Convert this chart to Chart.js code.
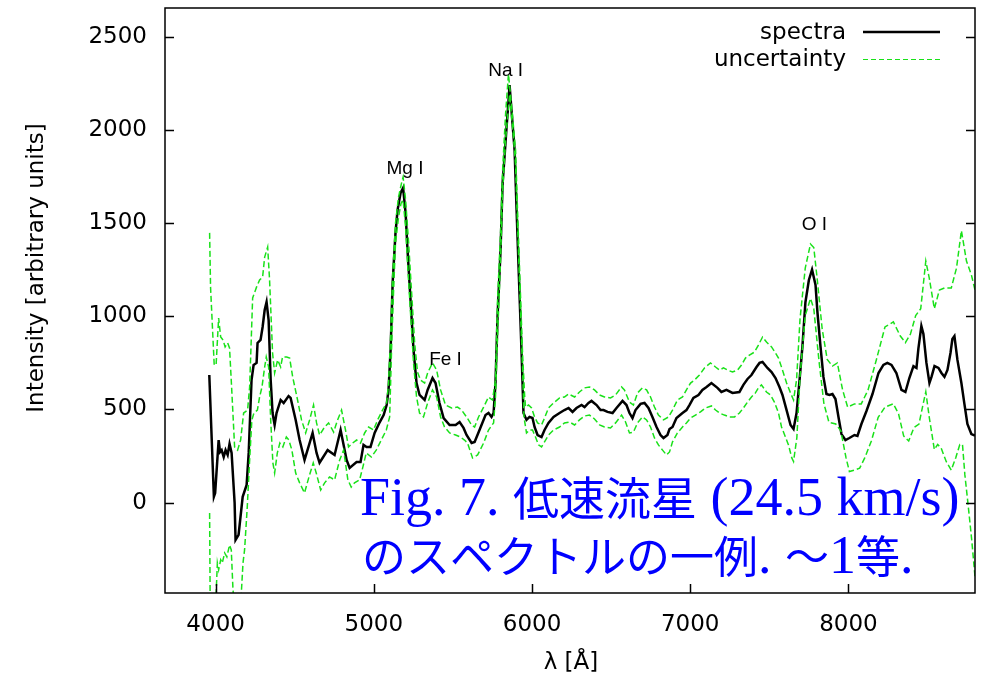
<!DOCTYPE html>
<html lang="ja">
<head>
<meta charset="UTF-8">
<title>低速流星のスペクトル</title>
<script src="https://cdn.jsdelivr.net/npm/chart.js"></script>
<style>
  html, body { margin: 0; padding: 0; background: #fff; }
  #wrap { width: 982px; height: 683px; }
</style>
</head>
<body>
<div id="wrap"><canvas id="spec" width="982" height="683"></canvas></div>
<script>
// [wavelength (Å), intensity]
const spectra = [[3960,685],[3989,32],[3997,52],[4019,336],[4028,272],[4038,282],[4051,245],[4063,282],[4076,256],[4088,315],[4101,267],[4120,0],[4126,-200],[4145,-173],[4171,31],[4196,95],[4209,267],[4227,658],[4240,739],[4259,750],[4265,857],[4284,873],[4297,943],[4310,1034],[4322,1077],[4335,980],[4348,658],[4360,481],[4373,417],[4385,481],[4411,551],[4430,535],[4461,572],[4474,562],[4506,444],[4531,336],[4562,229],[4594,320],[4613,374],[4638,267],[4657,214],[4708,282],[4752,256],[4790,390],[4828,229],[4847,186],[4891,218],[4916,218],[4935,310],[4954,299],[4979,299],[5005,374],[5036,430],[5062,470],[5081,524],[5093,605],[5106,819],[5119,1180],[5137,1448],[5150,1570],[5169,1662],[5185,1689],[5201,1554],[5213,1356],[5232,1088],[5251,819],[5270,642],[5289,578],[5321,551],[5340,605],[5371,669],[5390,642],[5415,535],[5441,454],[5479,417],[5517,417],[5542,433],[5567,401],[5586,363],[5618,320],[5637,326],[5668,390],[5706,470],[5725,481],[5744,460],[5757,481],[5769,642],[5782,996],[5801,1356],[5814,1715],[5826,1854],[5839,2015],[5849,2128],[5858,2241],[5877,2031],[5890,1891],[5902,1580],[5921,1116],[5934,803],[5946,481],[5965,444],[5984,460],[6003,454],[6016,406],[6035,363],[6060,352],[6079,390],[6104,428],[6136,460],[6174,481],[6205,497],[6231,508],[6256,487],[6281,508],[6313,524],[6332,513],[6357,535],[6376,546],[6408,524],[6433,497],[6452,497],[6477,487],[6509,481],[6534,508],[6572,546],[6597,524],[6616,481],[6635,454],[6654,497],[6686,530],[6711,535],[6736,508],[6761,460],[6787,406],[6812,363],[6831,347],[6856,363],[6869,395],[6888,406],[6913,454],[6951,481],[6976,497],[6995,524],[7020,562],[7052,578],[7077,605],[7103,621],[7134,642],[7172,616],[7197,594],[7229,605],[7267,589],[7311,594],[7336,632],[7362,664],[7387,685],[7419,728],[7438,750],[7457,755],[7488,723],[7514,701],[7539,669],[7564,621],[7583,578],[7609,497],[7634,417],[7653,395],[7672,481],[7691,658],[7709,836],[7728,1075],[7750,1195],[7770,1251],[7792,1168],[7804,1023],[7823,841],[7842,675],[7861,583],[7880,578],[7899,583],[7918,556],[7937,460],[7956,368],[7981,336],[8006,347],[8038,363],[8057,358],[8082,422],[8114,492],[8152,583],[8190,696],[8221,739],[8246,750],[8272,739],[8303,696],[8335,605],[8360,594],[8385,669],[8411,733],[8430,723],[8442,825],[8461,948],[8474,905],[8493,750],[8512,642],[8525,675],[8544,733],[8569,723],[8588,696],[8607,675],[8626,712],[8645,803],[8657,878],[8670,894],[8689,766],[8714,642],[8733,530],[8752,422],[8777,368],[8800,360]];

const upper = [[3962,1448],[3968,1156],[3991,739],[4003,739],[4019,991],[4032,889],[4047,873],[4060,836],[4076,857],[4088,830],[4101,621],[4120,299],[4139,282],[4158,336],[4177,481],[4202,497],[4215,621],[4234,1099],[4259,1158],[4278,1195],[4297,1211],[4310,1318],[4329,1372],[4341,1195],[4360,803],[4373,696],[4392,766],[4411,728],[4423,782],[4449,782],[4468,776],[4487,675],[4518,551],[4543,444],[4569,374],[4594,444],[4619,524],[4638,428],[4657,363],[4689,406],[4714,428],[4746,379],[4771,444],[4796,497],[4821,390],[4840,299],[4866,320],[4891,336],[4916,320],[4942,374],[4967,406],[4998,390],[5024,444],[5055,497],[5081,535],[5093,642],[5106,889],[5119,1211],[5137,1500],[5156,1640],[5175,1715],[5185,1747],[5201,1624],[5220,1393],[5239,1125],[5258,857],[5276,701],[5295,658],[5321,642],[5340,696],[5371,750],[5397,712],[5422,605],[5453,524],[5491,508],[5529,513],[5555,497],[5586,460],[5618,417],[5637,406],[5662,460],[5694,513],[5725,567],[5750,551],[5769,658],[5782,1088],[5801,1448],[5814,1784],[5833,2090],[5851,2300],[5877,2075],[5896,1891],[5908,1580],[5927,1116],[5940,803],[5953,578],[5959,513],[5978,524],[5997,508],[6016,460],[6035,428],[6060,417],[6079,454],[6104,508],[6136,535],[6174,562],[6205,567],[6231,583],[6269,567],[6300,594],[6332,616],[6363,621],[6395,605],[6427,578],[6458,567],[6496,562],[6528,578],[6566,621],[6584,605],[6616,540],[6641,524],[6667,589],[6698,616],[6724,605],[6749,567],[6774,513],[6799,470],[6831,444],[6863,460],[6888,497],[6919,551],[6951,567],[6976,605],[7002,642],[7027,658],[7058,685],[7090,723],[7128,750],[7160,728],[7185,712],[7210,723],[7235,712],[7267,701],[7299,712],[7324,739],[7349,776],[7374,792],[7406,808],[7431,846],[7457,889],[7482,862],[7514,836],[7539,803],[7558,776],[7583,712],[7609,642],[7634,589],[7653,551],[7672,658],[7694,986],[7727,1259],[7760,1388],[7781,1369],[7802,1205],[7834,932],[7866,768],[7899,733],[7930,750],[7963,605],[7995,513],[8038,530],[8081,530],[8124,605],[8177,768],[8231,943],[8284,970],[8328,894],[8360,859],[8392,905],[8425,1004],[8457,1041],[8489,1297],[8511,1205],[8543,1041],[8575,1141],[8607,1152],[8650,1152],[8683,1259],[8714,1460],[8746,1297],[8777,1223],[8800,1141]];

const lower = [[3962,-55],[3966,-600],[3998,-600],[4011,-324],[4019,-361],[4032,-307],[4042,-324],[4057,-270],[4071,-291],[4088,-227],[4099,-254],[4109,-452],[4120,-600],[4155,-600],[4173,-324],[4183,-254],[4200,-23],[4215,229],[4229,444],[4242,481],[4264,497],[4278,567],[4293,621],[4310,728],[4320,782],[4335,728],[4348,444],[4362,213],[4373,159],[4390,267],[4406,320],[4425,299],[4447,352],[4463,336],[4482,282],[4506,159],[4531,106],[4562,52],[4590,138],[4617,213],[4636,159],[4664,68],[4689,106],[4720,138],[4752,122],[4784,229],[4809,282],[4836,122],[4857,84],[4878,106],[4910,122],[4931,192],[4952,267],[4984,245],[5015,282],[5047,336],[5079,390],[5100,460],[5112,819],[5125,1141],[5137,1392],[5156,1532],[5172,1607],[5185,1624],[5201,1479],[5213,1286],[5232,1018],[5251,750],[5270,567],[5289,481],[5314,460],[5340,535],[5371,605],[5397,567],[5422,460],[5447,406],[5479,374],[5517,363],[5548,352],[5573,336],[5592,320],[5624,240],[5656,256],[5694,320],[5725,390],[5757,428],[5769,567],[5782,889],[5801,1302],[5814,1662],[5833,1950],[5858,2190],[5883,1960],[5896,1811],[5908,1505],[5927,1033],[5940,722],[5949,460],[5965,374],[5984,390],[6003,390],[6022,352],[6041,310],[6060,299],[6079,326],[6104,363],[6136,390],[6174,406],[6205,428],[6237,433],[6269,417],[6300,444],[6332,465],[6363,470],[6395,449],[6427,417],[6458,406],[6496,401],[6528,428],[6566,470],[6591,433],[6616,374],[6641,379],[6667,428],[6698,460],[6724,444],[6749,406],[6774,347],[6799,310],[6825,282],[6850,256],[6869,272],[6888,326],[6919,374],[6951,406],[6976,428],[7002,454],[7033,470],[7065,487],[7096,508],[7134,519],[7160,497],[7185,481],[7216,470],[7248,460],[7280,460],[7311,481],[7336,508],[7362,540],[7387,567],[7412,589],[7431,616],[7450,632],[7482,594],[7507,578],[7532,540],[7558,481],[7577,406],[7602,352],[7621,310],[7642,240],[7653,221],[7674,349],[7694,677],[7727,1004],[7760,1096],[7781,1041],[7813,768],[7845,531],[7877,431],[7920,422],[7952,385],[7985,240],[8006,167],[8038,175],[8071,185],[8103,240],[8145,331],[8188,458],[8231,513],[8284,531],[8317,476],[8349,358],[8381,331],[8414,403],[8446,422],[8468,513],[8489,595],[8511,458],[8543,285],[8564,312],[8586,293],[8618,221],[8650,175],[8678,240],[8704,312],[8721,312],[8736,149],[8757,-16],[8779,-198],[8800,-398]];

const xTicks = [4000, 5000, 6000, 7000, 8000];
const yTicks = [0, 500, 1000, 1500, 2000, 2500];

// emission line labels: name, wavelength, intensity of the label baseline
const lineNames = ['Mg I', 'Fe I', 'Na I', 'O I'];
const lineWl = [5197, 5453, 5833, 7785];
const lineLevel = [1763, 739, 2289, 1463];

const xTitle = 'λ [Å]';
const yTitle = 'Intensity [arbitrary units]';
const captionLines = ['Fig. 7. 低速流星 (24.5 km/s)', 'のスペクトルの一例. ～1等.'];

const GREEN = 'rgb(25,225,25)';
const FONT = '"DejaVu Sans"';

Chart.defaults.font.family = FONT;
Chart.defaults.color = '#000';

const toPts = arr => arr.map(p => ({ x: p[0], y: p[1] }));

// split a string into latin / CJK runs so each gets its own font
function runs(str) {
  const out = [];
  for (const ch of str) {
    const cjk = /[\u3000-\u9fff\uff00-\uffef]/.test(ch);
    if (out.length && out[out.length - 1].cjk === cjk) out[out.length - 1].t += ch;
    else out.push({ t: ch, cjk });
  }
  return out;
}

const decor = {
  id: 'decor',
  afterDatasetsDraw(chart) {
    const { ctx, chartArea: a, scales: { x, y } } = chart;
    ctx.save();

    // frame with inward ticks
    ctx.strokeStyle = '#000';
    ctx.lineWidth = 1.5;
    ctx.strokeRect(a.left, a.top, a.right - a.left, a.bottom - a.top);
    ctx.beginPath();
    yTicks.forEach(v => {
      const py = Math.round(y.getPixelForValue(v)) + 0.5;
      ctx.moveTo(a.left, py); ctx.lineTo(a.left + 9, py);
      ctx.moveTo(a.right, py); ctx.lineTo(a.right - 9, py);
    });
    xTicks.forEach(v => {
      const px = Math.round(x.getPixelForValue(v)) + 0.5;
      ctx.moveTo(px, a.bottom); ctx.lineTo(px, a.bottom - 9);
    });
    ctx.stroke();

    // line identifications
    ctx.fillStyle = '#000';
    ctx.font = '19px "Liberation Sans"';
    ctx.textAlign = 'center';
    ctx.textBaseline = 'alphabetic';
    lineNames.forEach((n, i) => {
      ctx.fillText(n, x.getPixelForValue(lineWl[i]), y.getPixelForValue(lineLevel[i]));
    });

    // legend
    const ds = chart.data.datasets;
    ctx.font = '23px ' + FONT;
    ctx.textAlign = 'right';
    ctx.fillText(ds[2].label, 846, 39);
    ctx.fillText(ds[0].label, 846, 66);
    ctx.beginPath();
    ctx.strokeStyle = '#000';
    ctx.lineWidth = 2.5;
    ctx.moveTo(863, 32); ctx.lineTo(940, 32);
    ctx.stroke();
    ctx.beginPath();
    ctx.strokeStyle = GREEN;
    ctx.lineWidth = 1;
    ctx.setLineDash([5, 3]);
    ctx.moveTo(863, 59.5); ctx.lineTo(940, 59.5);
    ctx.stroke();
    ctx.setLineDash([]);

    // axis titles
    ctx.fillStyle = '#000';
    ctx.textAlign = 'center';
    ctx.textBaseline = 'middle';
    ctx.fillText(xTitle, 571, 663);
    ctx.save();
    ctx.translate(37, 268);
    ctx.rotate(-Math.PI / 2);
    ctx.fillText(yTitle, 0, 0);
    ctx.restore();

    ctx.restore();
  },
  afterDraw(chart) {
    const ctx = chart.ctx;
    ctx.save();
    ctx.fillStyle = '#0000ff';
    ctx.textAlign = 'left';
    ctx.textBaseline = 'alphabetic';
    const starts = [[360, 515, 46], [362, 573, 44]];
    captionLines.forEach((line, i) => {
      let [cx, cy, cjkSize] = starts[i];
      runs(line).forEach(r => {
        ctx.font = r.cjk ? cjkSize + 'px "Noto Sans CJK JP"' : '54px "Liberation Serif"';
        ctx.fillText(r.t, cx, cy);
        cx += ctx.measureText(r.t).width;
      });
    });
    ctx.restore();
  }
};

const lineStyle = { pointRadius: 0, tension: 0, fill: false };

new Chart(document.getElementById('spec'), {
  type: 'line',
  data: {
    datasets: [
      { label: 'uncertainty', data: toPts(upper), borderColor: GREEN, borderWidth: 1.5, borderDash: [6, 3], ...lineStyle },
      { label: 'uncertainty', data: toPts(lower), borderColor: GREEN, borderWidth: 1.5, borderDash: [6, 3], ...lineStyle },
      { label: 'spectra', data: toPts(spectra), borderColor: '#000', borderWidth: 2.5, ...lineStyle }
    ]
  },
  options: {
    responsive: false,
    animation: false,
    devicePixelRatio: 1,
    layout: { padding: { top: 8, right: 7, left: 0, bottom: 0 } },
    plugins: { legend: { display: false }, tooltip: { enabled: false } },
    scales: {
      x: {
        type: 'linear', min: 3680, max: 8800,
        afterBuildTicks: s => { s.ticks = xTicks.map(v => ({ value: v })); },
        afterFit: s => { s.height = 90; s.paddingLeft = 0; s.paddingRight = 0; },
        grid: { display: false, drawTicks: false },
        border: { display: false },
        ticks: { padding: 18, maxRotation: 0, font: { size: 23 }, callback: v => String(v) }
      },
      y: {
        type: 'linear', min: -485, max: 2655,
        afterBuildTicks: s => { s.ticks = yTicks.map(v => ({ value: v })); },
        afterFit: s => { s.width = 165; s.paddingTop = 0; s.paddingBottom = 0; },
        grid: { display: false, drawTicks: false },
        border: { display: false },
        ticks: { padding: 18, font: { size: 23 }, callback: v => String(v) }
      }
    }
  },
  plugins: [decor]
});
</script>
</body>
</html>
